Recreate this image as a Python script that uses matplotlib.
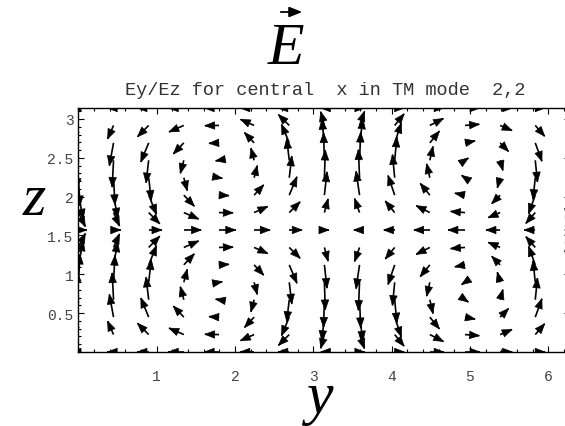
import numpy as np
import matplotlib
matplotlib.use('Agg')
import matplotlib.pyplot as plt
from matplotlib.collections import LineCollection, PolyCollection
from matplotlib.patches import FancyArrowPatch
from matplotlib.ticker import FixedLocator, MultipleLocator

# Malha 15 x 15 do campo (y de 0 a 2pi, z de 0 a pi)
y_grid = np.linspace(0, 2 * np.pi, 15)
z_grid = np.linspace(0, np.pi, 15)

# Ez = ez_col[coluna] * ez_lin[linha]
ez_col = [0.97, 0.93, 0.78, 0.45, 0.02, -0.42, -0.75, -0.95, -0.97, -0.80, -0.48, -0.08, 0.35, 0.75, 0.95]
ez_lin = [0.0, 0.5, 0.85, 1.0, 1.0, 0.85, 0.5, 0.0, -0.5, -0.85, -1.0, -1.0, -0.85, -0.5, 0.0]
# Ey = ey_col[coluna] * ey_lin[linha]
ey_col = [-0.28, -0.24, -0.45, -0.60, -0.57, -0.55, -0.44, -0.15, 0.20, 0.38, 0.55, 0.58, 0.48, 0.38, 0.20]
ey_lin = [0.88, 0.85, 0.6, 0.2, -0.2, -0.6, -0.85, -1.0, -0.85, -0.6, -0.2, 0.2, 0.6, 0.85, 0.88]

xticks = [1, 2, 3, 4, 5, 6]
yticks = [0.5, 1, 1.5, 2, 2.5, 3]
titulo = 'Ey/Ez for central  x in TM mode  2,2'

W, H = 565, 427
escala = 0.371       # comprimento da seta para |E| = 1 (unidades do grafico)
cabeca_L = 0.125     # comprimento da ponta
cabeca_W = 0.048     # meia largura da ponta


def px(x, y):
    # pixel (a partir do canto superior esquerdo) -> fracao da figura
    return x / W, 1 - y / H


fig = plt.figure(figsize=(W / 100, H / 100), dpi=100)
ax = fig.add_axes([78.4 / W, (H - 353) / H, 492.0 / W, 244 / H])

Y, Z = np.meshgrid(y_grid, z_grid)
Ey = np.outer(ey_lin, ey_col)
Ez = np.outer(ez_lin, ez_col)

segs = []
heads = []
for i in range(Y.shape[0]):
    for j in range(Y.shape[1]):
        u = Ey[i, j] * escala
        v = Ez[i, j] * escala
        n = np.hypot(u, v)
        if n < 1e-6:
            continue
        x0, y0 = Y[i, j], Z[i, j]
        x1, y1 = x0 + u, y0 + v
        dx, dy = u / n, v / n
        bx, by = x1 - cabeca_L * dx, y1 - cabeca_L * dy
        segs.append([(x0, y0), (x1, y1)])
        heads.append([(x1, y1),
                      (bx - cabeca_W * dy, by + cabeca_W * dx),
                      (bx + cabeca_W * dy, by - cabeca_W * dx)])

ax.add_collection(LineCollection(segs, colors='black', linewidths=1.2))
ax.add_collection(PolyCollection(heads, facecolors='black', edgecolors='black', linewidths=0.5))

ax.set_xlim(0, 2 * np.pi)
ax.set_ylim(0, np.pi)

ax.xaxis.set_major_locator(FixedLocator(xticks))
ax.xaxis.set_minor_locator(MultipleLocator(0.2))
ax.yaxis.set_major_locator(FixedLocator(yticks))
ax.yaxis.set_minor_locator(MultipleLocator(0.1))
ax.set_xticklabels([str(t) for t in xticks])
ax.set_yticklabels(['0.5', '1', '1.5', '2', '2.5', '3'])
ax.tick_params(which='both', direction='in', top=True, right=True, width=0.8)
ax.tick_params(which='major', length=4)
ax.tick_params(which='minor', length=2)
ax.tick_params(axis='x', pad=12)
ax.tick_params(axis='y', pad=3.5)
for lab in ax.get_xticklabels() + ax.get_yticklabels():
    lab.set_fontfamily('Liberation Mono')
    lab.set_fontsize(10.5)
    lab.set_color('#444444')
for s in ax.spines.values():
    s.set_linewidth(1.0)

# rotulos grandes
serif = dict(family='Liberation Serif', style='italic', size=43)
fig.text(*px(286, 64), 'E', ha='center', va='baseline', **serif)
fig.text(*px(34, 215), 'z', ha='center', va='baseline', **serif)
fig.text(*px(320, 413), 'y', ha='center', va='baseline', **serif)
seta = FancyArrowPatch(px(278, 13), px(305, 13), transform=fig.transFigure,
                       arrowstyle='-|>,head_length=0.55,head_width=0.22',
                       mutation_scale=14, lw=1.3, color='black')
fig.add_artist(seta)

fig.text(*px(325, 95), titulo, ha='center', va='baseline',
         family='Liberation Mono', size=13.4, color='#333333')

fig.savefig('out.png', dpi=100)
